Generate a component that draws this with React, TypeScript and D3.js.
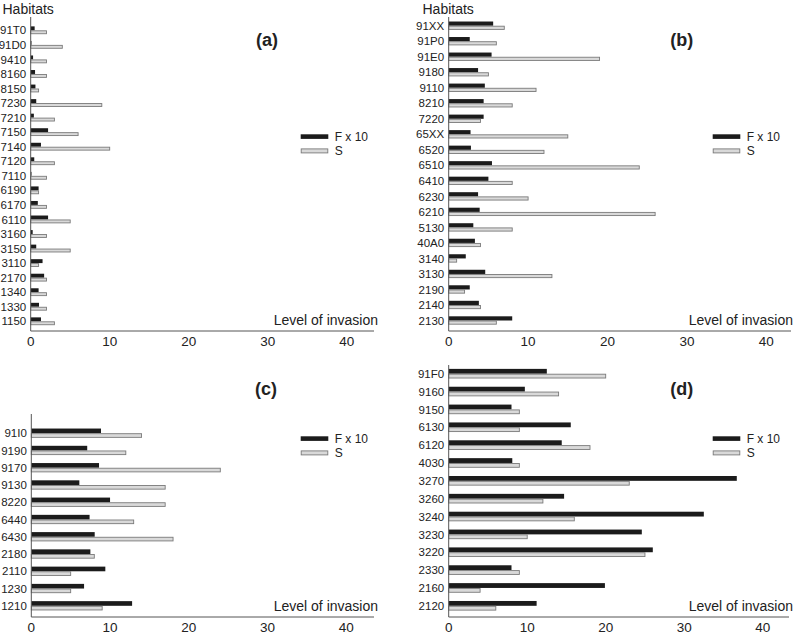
import React from "react";
import * as d3 from "d3";

// ---------- DATA ----------
const catsA = ["91T0","91D0","9410","8160","8150","7230","7210","7150","7140","7120","7110","6190","6170","6110","3160","3150","3110","2170","1340","1330","1150"];
const fA = [0.5,0.1,0.3,0.55,0.6,0.7,0.4,2.2,1.3,0.45,0.1,1.0,0.9,2.2,0.25,0.7,1.5,1.7,1.0,1.05,1.3];
const sA = [2,4,2,2,1,9,3,6,10,3,2,1,2,5,2,5,1,2,2,2,3];

const catsB = ["91XX","91P0","91E0","9180","9110","8210","7220","65XX","6520","6510","6410","6230","6210","5130","40A0","3140","3130","2190","2140","2130"];
const fB = [5.6,2.65,5.4,3.7,4.55,4.4,4.4,2.75,2.8,5.45,5.0,3.7,3.9,3.1,3.3,2.15,4.6,2.65,3.8,8.0];
const sB = [7,6,19,5,11,8,4,15,12,24,8,10,26,8,4,1,13,2,4,6];

const catsC = ["91I0","9190","9170","9130","8220","6440","6430","2180","2110","1230","1210"];
const fC = [8.85,7.1,8.6,6.1,10.0,7.4,8.05,7.5,9.4,6.7,12.8];
const sC = [14,12,24,17,17,13,18,8,5,5,9];

const catsD = ["91F0","9160","9150","6130","6120","4030","3270","3260","3240","3230","3220","2330","2160","2120"];
const fD = [12.5,9.7,8.0,15.55,14.4,8.1,36.7,14.7,32.5,24.6,26.0,8.0,19.9,11.2];
const sD = [20,14,9,9,18,9,23,12,16,10,25,9,4,6];

const xDomain = [0, 40];
const panelLetters = ["(a)", "(b)", "(c)", "(d)"];
const legendLabels = ["F x 10", "S"];
const yTitle = "Habitats";
const xTitle = "Level of invasion";

// ---------- LAYOUT ----------
type Layout = {
  x0: number; x40: number; axisEnd: number; axisTop: number; axisY: number;
  yFirst: number; yLast: number; letterX: number; letterY: number;
  legX: number; legY: number; title: boolean; titleX: number; xTitleRight: number;
};

const layouts: Layout[] = [
  { x0: 30.7, x40: 346.7, axisEnd: 374, axisTop: 17, axisY: 331, yFirst: 30.3, yLast: 321.3, letterX: 267, letterY: 45.5, legX: 300.7, legY: 134.3, title: true, titleX: 2.5, xTitleRight: 378 },
  { x0: 448.7, x40: 766.3, axisEnd: 791, axisTop: 17, axisY: 331, yFirst: 25.7, yLast: 320.5, letterX: 681.7, letterY: 45.5, legX: 712.7, legY: 134.3, title: true, titleX: 422.5, xTitleRight: 793 },
  { x0: 31.3, x40: 346.3, axisEnd: 374, axisTop: 414, axisY: 617, yFirst: 433.2, yLast: 605.8, letterX: 266, letterY: 394.5, legX: 300.7, legY: 436.3, title: false, titleX: 0, xTitleRight: 378 },
  { x0: 448.7, x40: 762.7, axisEnd: 789, axisTop: 365, axisY: 617, yFirst: 373.7, yLast: 605.8, letterX: 681.7, letterY: 394.5, legX: 712.7, legY: 436.3, title: false, titleX: 0, xTitleRight: 793 },
];

const panelData = [
  { cats: catsA, f: fA, s: sA },
  { cats: catsB, f: fB, s: sB },
  { cats: catsC, f: fC, s: sC },
  { cats: catsD, f: fD, s: sD },
];

const FONT = "'Liberation Sans', Arial, Helvetica, sans-serif";
const DARK = "#1b1b1b";
const LIGHT = "#d9d9d9";
const LIGHT_STROKE = "#7a7a7a";
const AXIS = "#555";
const TEXT = "#222";

function Panel({ idx }: { idx: number }) {
  const L = layouts[idx];
  const { cats, f, s } = panelData[idx];
  const n = cats.length;
  const step = (L.yLast - L.yFirst) / (n - 1);
  const y = d3.scaleBand<string>().domain(cats).range([L.yFirst - step / 2, L.yLast + step / 2]).padding(0);
  const x = d3.scaleLinear().domain(xDomain).range([L.x0, L.x40]);
  const h = step * 0.27;
  const ticks = x.ticks(4);
  const tickY = L.axisY + 14.5;

  return (
    <g>
      {L.title && (
        <text x={L.titleX} y={13.5} fontSize={14} fill={TEXT} fontFamily={FONT}>{yTitle}</text>
      )}
      {cats.map((c, i) => {
        const cy = (y(c) as number) + y.bandwidth() / 2;
        return (
          <g key={c}>
            <text x={L.x0 - 4.5} y={cy} dy="0.36em" textAnchor="end" fontSize={11.5} fill={TEXT} fontFamily={FONT}>{c}</text>
            <rect x={x(0)} y={cy - h} width={Math.max(0.6, x(f[i]) - x(0))} height={h} fill={DARK} />
            <rect x={x(0)} y={cy + 0.5} width={Math.max(0, x(s[i]) - x(0))} height={h - 1} fill={LIGHT} stroke={LIGHT_STROKE} strokeWidth={0.9} />
          </g>
        );
      })}
      <line x1={L.x0} x2={L.x0} y1={L.axisTop} y2={L.axisY} stroke={AXIS} strokeWidth={1} />
      <line x1={L.x0} x2={L.axisEnd} y1={L.axisY} y2={L.axisY} stroke={AXIS} strokeWidth={1} />
      {ticks.map((t) => (
        <text key={t} x={x(t)} y={tickY} textAnchor="middle" fontSize={13.5} fill={TEXT} fontFamily={FONT}>{t}</text>
      ))}
      <text x={L.xTitleRight} y={L.axisY - 6} textAnchor="end" fontSize={14} fill={TEXT} fontFamily={FONT}>{xTitle}</text>
      <text x={L.letterX} y={L.letterY} textAnchor="middle" fontSize={18} fontWeight="bold" fill={TEXT} fontFamily={FONT}>{panelLetters[idx]}</text>
      <g>
        <rect x={L.legX} y={L.legY} width={27.6} height={4.6} fill={DARK} />
        <text x={L.legX + 34} y={L.legY + 2.3} dy="0.36em" fontSize={12} fill={TEXT} fontFamily={FONT}>{legendLabels[0]}</text>
        <rect x={L.legX + 0.5} y={L.legY + 14.6} width={26.6} height={4} fill={LIGHT} stroke={LIGHT_STROKE} strokeWidth={0.9} />
        <text x={L.legX + 34} y={L.legY + 16.6} dy="0.36em" fontSize={12} fill={TEXT} fontFamily={FONT}>{legendLabels[1]}</text>
      </g>
    </g>
  );
}

export default function App() {
  return (
    <svg width={796} height={634} style={{ position: "absolute", left: 0, top: 0, background: "#fff" }}>
      <rect width={796} height={634} fill="#fff" />
      {[0, 1, 2, 3].map((i) => <Panel key={i} idx={i} />)}
    </svg>
  );
}
